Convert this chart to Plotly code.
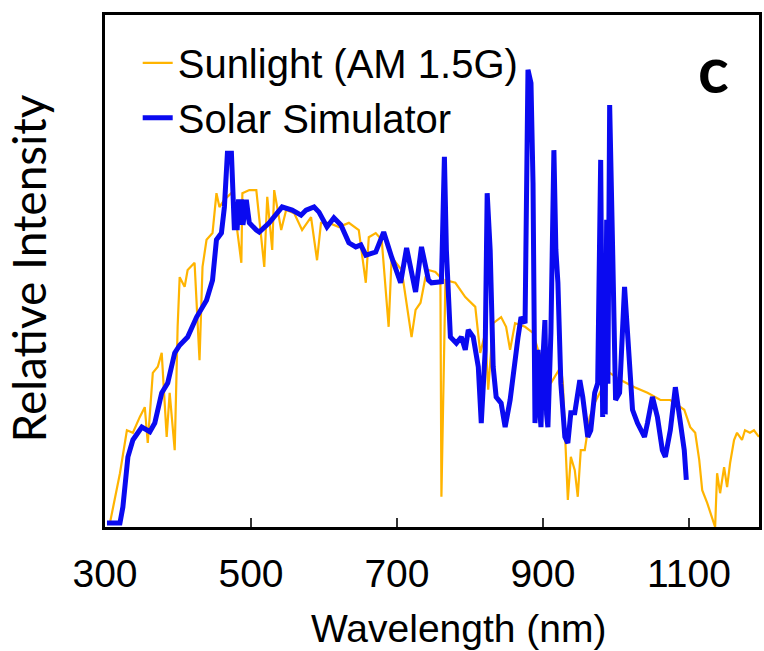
import plotly.graph_objects as go

# Sunlight (AM 1.5G) spectrum, relative intensity (0-100 scale)
sun_wl = [306.8, 320.5, 330.0, 338.2, 347.7, 354.5, 358.6, 365.5, 372.3, 377.7, 384.5, 388.6,
          395.5, 399.5, 402.3, 409.1, 413.2, 422.7, 429.5, 433.6, 439.1, 447.3, 452.7, 456.8,
          463.6, 474.5, 486.8, 488.2, 497.7, 507.3, 518.2, 522.3, 529.1, 531.8, 541.4, 548.2,
          559.1, 570.0, 582.3, 590.5, 595.9, 606.8, 620.5, 634.1, 647.7, 657.3, 661.4, 670.9,
          679.1, 688.6, 692.7, 706.4, 720.0, 725.5, 732.3, 739.1, 743.2, 752.7, 759.5, 760.9,
          766.4, 780.0, 793.6, 807.3, 814.1, 820.9, 825.0, 831.8, 842.7, 849.5, 855.0, 861.8,
          875.5, 886.4, 893.2, 900.0, 910.9, 924.5, 927.3, 934.1, 938.2, 943.6, 947.7, 951.8,
          957.3, 964.1, 970.9, 977.7, 991.4, 1006.4, 1025.5, 1043.2, 1060.9, 1074.5, 1093.6,
          1101.8, 1108.6, 1114.1, 1118.2, 1125.0, 1131.8, 1135.9, 1138.6, 1142.7, 1148.2,
          1152.3, 1156.4, 1161.8, 1165.9, 1172.7, 1176.8, 1183.6, 1189.1, 1195.9]
sun_val = [0.8, 10.5, 18.9, 18.4, 21.5, 23.4, 16.4, 30.1, 31.3, 34.0, 17.6, 26.2,
           15.0, 39.1, 48.8, 46.9, 50.2, 51.6, 32.6, 50.8, 56.1, 57.4, 65.2, 62.5,
           63.9, 65.4, 51.6, 65.2, 65.8, 65.8, 50.8, 64.5, 54.1, 65.8, 58.0, 61.9,
           61.3, 58.0, 60.5, 52.1, 59.4, 59.4, 58.6, 59.4, 58.0, 47.7, 56.6, 57.4,
           56.1, 39.1, 52.7, 50.2, 37.1, 42.4, 43.8, 48.8, 50.2, 49.8, 48.8, 5.9,
           48.2, 47.7, 44.9, 43.0, 34.0, 37.9, 26.8, 39.8, 41.0, 39.1, 34.6, 39.8,
           39.1, 37.9, 34.6, 32.6, 28.1, 31.3, 28.1, 5.3, 13.7, 11.1, 5.9, 15.0,
           15.0, 21.5, 24.2, 26.2, 30.1, 28.7, 27.3, 26.2, 24.8, 24.8, 22.9,
           19.5, 18.4, 13.1, 7.2, 4.7, 2.0, 0.0, 10.5, 6.6, 11.7,
           7.8, 12.5, 17.0, 18.4, 17.0, 18.9, 18.4, 18.9, 17.6]

# Solar simulator spectrum, relative intensity (0-100 scale)
sim_wl = [302.7, 320.5, 324.5, 331.4, 338.2, 350.5, 361.4, 368.2, 377.7, 385.9, 395.5, 402.3,
          413.2, 425.5, 439.1, 447.3, 452.7, 459.5, 463.6, 467.7, 473.2, 477.3, 479.0, 481.0,
          483.0, 485.0, 487.0, 489.0, 493.6, 497.7, 507.3, 511.4, 525.0, 542.7, 556.4, 568.6,
          575.5, 586.4, 593.2, 604.1, 613.6, 623.2, 634.1, 643.6, 650.5, 657.3, 670.9, 681.8,
          692.7, 705.0, 713.2, 725.5, 733.6, 743.2, 747.3, 760.9, 765.0, 767.7, 773.2, 781.4,
          788.2, 793.6, 797.7, 804.5, 811.4, 815.5, 820.9, 823.6, 827.7, 831.8, 835.9, 842.7,
          848.2, 855.0, 865.9, 870.0, 875.5, 879.5, 883.6, 886.4, 889.1, 891.0, 893.2, 895.0,
          897.3, 900.0, 902.7, 905.0, 906.8, 910.9, 915.0, 917.7, 920.5, 924.5, 930.0, 934.1,
          938.2, 943.6, 950.5, 954.5, 961.4, 965.5, 970.9, 975.0, 979.1, 981.8, 983.5, 985.3,
          987.3, 989.0, 991.4, 995.5, 999.5, 1005.0, 1011.8, 1015.9, 1022.7, 1029.5, 1039.1,
          1043.2, 1050.0, 1056.8, 1063.6, 1067.7, 1074.5, 1081.4, 1086.8, 1093.6, 1096.4]
sim_val = [0.8, 0.8, 3.9, 13.7, 17.0, 19.5, 18.6, 20.3, 26.2, 28.1, 34.0, 35.5,
           37.1, 41.0, 44.3, 48.2, 56.1, 57.4, 62.5, 73.0, 73.0, 58.0, 63.5, 58.0,
           64.0, 59.0, 64.0, 59.0, 63.9, 59.4, 58.0, 57.6, 59.4, 62.5, 61.9, 60.9,
           61.9, 62.5, 61.5, 58.6, 60.4, 59.0, 55.5, 54.7, 55.1, 53.1, 53.7, 57.6,
           52.7, 47.7, 54.5, 45.9, 54.7, 48.2, 47.7, 47.9, 72.3, 54.1, 37.1, 35.9,
           37.1, 34.6, 38.5, 37.1, 31.3, 20.3, 34.6, 65.2, 54.1, 31.3, 25.4, 24.2,
           19.5, 24.8, 37.1, 41.0, 39.8, 89.3, 86.7, 67.2, 20.3, 30.0, 34.6, 24.0,
           19.5, 33.0, 40.4, 22.0, 19.5, 37.9, 73.6, 54.1, 47.7, 28.1, 17.6, 16.4,
           22.3, 22.3, 28.7, 25.4, 17.6, 18.9, 26.2, 28.1, 71.7, 21.5, 50.0, 22.0,
           60.0, 28.0, 82.4, 54.1, 24.8, 26.2, 46.9, 37.9, 22.9, 20.3, 17.6,
           20.3, 25.4, 21.5, 15.0, 13.7, 18.9, 27.3, 21.5, 15.0, 9.2]

x_ticks = [300, 500, 700, 900, 1100]
x_range = [300, 1196]
y_range = [0, 100]

fig = go.Figure()
fig.add_trace(go.Scatter(x=sun_wl, y=sun_val, mode="lines", name="Sunlight (AM 1.5G)",
                         line=dict(color="#FFB400", width=2.2)))
fig.add_trace(go.Scatter(x=sim_wl, y=sim_val, mode="lines", name="Solar Simulator",
                         line=dict(color="#0A0AF0", width=5, shape="linear"),
                         ))

fig.update_layout(
    width=764, height=651,
    margin=dict(l=105, r=2, t=15, b=124),
    paper_bgcolor="white", plot_bgcolor="white",
    font=dict(family="Liberation Sans, Arial", size=39, color="black"),
    showlegend=True,
    legend=dict(x=0.05, y=0.97, xanchor="left", yanchor="top",
                bgcolor="rgba(0,0,0,0)", font=dict(size=40), tracegroupgap=0),
    xaxis=dict(range=x_range, tickvals=x_ticks, ticks="inside", ticklen=9, tickwidth=1.5,
               tickcolor="#333", showline=True, linecolor="black", linewidth=3, mirror=True,
               showgrid=False, zeroline=False, tickfont=dict(size=39), ticklabelstandoff=10),
    yaxis=dict(range=y_range, showticklabels=False, ticks="", showline=True,
               linecolor="black", linewidth=3, mirror=True, showgrid=False, zeroline=False),
    annotations=[
        dict(text="Wavelength (nm)", xref="paper", yref="paper", x=0.542, y=-0.199,
             xanchor="center", yanchor="middle", showarrow=False,
             font=dict(size=39, family="Liberation Sans, Arial")),
        dict(text="Relative Intensity", xref="paper", yref="paper", x=-0.117, y=0.506,
             xanchor="center", yanchor="middle", showarrow=False, textangle=-90,
             font=dict(size=46, family="Lato, Open Sans")),
        dict(text="<b>c</b>", xref="paper", yref="paper", x=0.93, y=0.895,
             xanchor="center", yanchor="middle", showarrow=False,
             font=dict(size=64, family="Lato, Liberation Sans")),
    ],
)

fig.write_html("out.html")
